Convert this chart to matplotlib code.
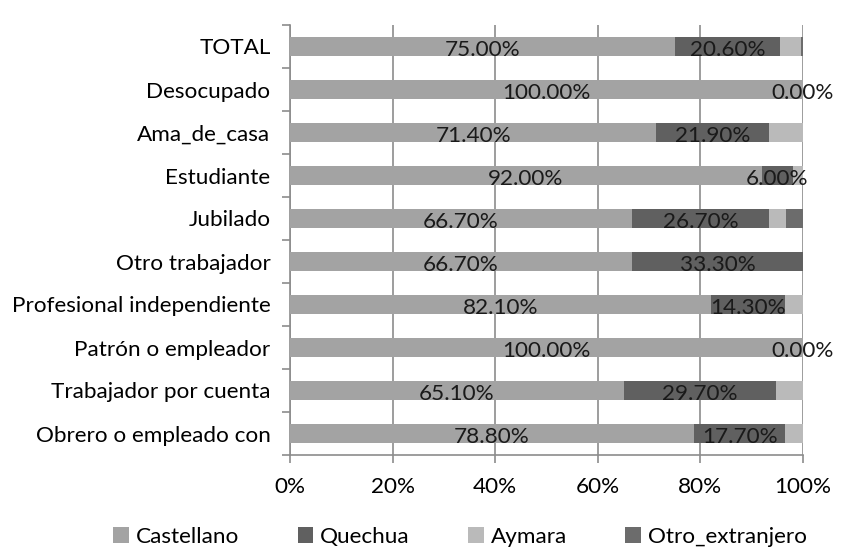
import matplotlib
matplotlib.use("Agg")
import matplotlib.pyplot as plt
import numpy as np

categories = ["TOTAL", "Desocupado", "Ama_de_casa", "Estudiante", "Jubilado",
              "Otro trabajador", "Profesional independiente", "Patrón o empleador",
              "Trabajador por cuenta", "Obrero o empleado con"]
castellano = [75.0, 100.0, 71.4, 92.0, 66.7, 66.7, 82.1, 100.0, 65.1, 78.8]
quechua = [20.6, 0.0, 21.9, 6.0, 26.7, 33.3, 14.3, 0.0, 29.7, 17.7]
aymara = [4.0, 0.0, 6.7, 2.0, 3.3, 0.0, 3.6, 0.0, 5.2, 3.5]
otro = [0.4, 0.0, 0.0, 0.0, 3.3, 0.0, 0.0, 0.0, 0.0, 0.0]
series_names = ["Castellano", "Quechua", "Aymara", "Otro_extranjero"]
xticks = [0, 20, 40, 60, 80, 100]
xticklabels = ["0%", "20%", "40%", "60%", "80%", "100%"]

colors = ["#a3a3a3", "#606060", "#bababa", "#6c6c6c"]
FONT = ["Lato", "DejaVu Sans"]
FS = 16.2

plt.rcParams['font.family'] = FONT

W, H = 852, 548
fig = plt.figure(figsize=(W / 100, H / 100), dpi=100)
ax = fig.add_axes([290 / W, (H - 455) / H, (803 - 290) / W, (455 - 25) / H])

n = len(categories)
y = np.arange(n)[::-1]
data = [castellano, quechua, aymara, otro]
left = np.zeros(n)
bars = []
for vals, c, name in zip(data, colors, series_names):
    v = np.array(vals)
    b = ax.barh(y, v, left=left, height=0.42, color=c, label=name, zorder=3)
    bars.append((b, v, left.copy()))
    left = left + v

# data labels for Castellano and Quechua
for idx in range(2):
    b, v, lft = bars[idx]
    for i in range(n):
        xc = lft[i] + v[i] / 2
        ax.text(xc, y[i] - 0.08, f"{v[i]:.2f}%", ha="center", va="center",
                fontsize=FS, color="#1a1a1a", zorder=5)

ax.set_xlim(0, 100)
ax.set_ylim(-0.5, n - 0.5)
ax.set_xticks(xticks)
ax.set_xticklabels(xticklabels, fontsize=FS)
ax.set_yticks(y)
ax.set_yticklabels(categories, fontsize=FS)
ax.set_yticks(np.arange(-0.5, n, 1.0), minor=True)
ax.tick_params(axis="y", which="major", length=0, pad=14)
ax.tick_params(axis="y", which="minor", length=6, color="#8c8c8c", width=1.2)
ax.tick_params(axis="x", which="major", length=6, color="#8c8c8c", width=1.2, pad=10)
ax.xaxis.grid(True, color="#8c8c8c", linewidth=1.2, zorder=0)
for s in ["top", "right"]:
    ax.spines[s].set_visible(False)
for s in ["left", "bottom"]:
    ax.spines[s].set_color("#8c8c8c")
    ax.spines[s].set_linewidth(1.2)

handles, labels = ax.get_legend_handles_labels()
leg = fig.legend(handles, labels, loc="center", bbox_to_anchor=(460 / W, 1 - 537 / H),
                 ncol=4, frameon=False, fontsize=FS, handlelength=0.7, handleheight=0.7,
                 handletextpad=0.3, columnspacing=2.6)

fig.savefig("out.png", dpi=100)
